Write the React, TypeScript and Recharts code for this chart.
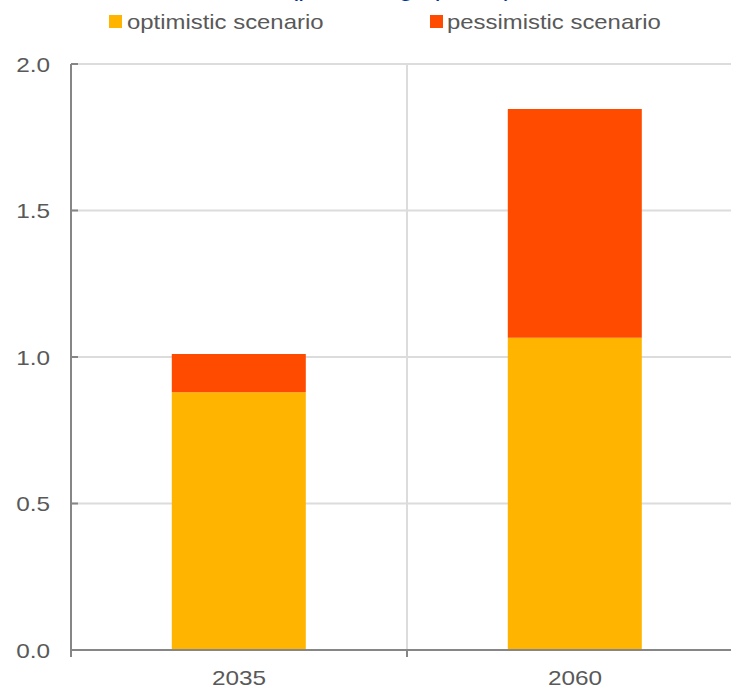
import React from 'react';
import { BarChart, Bar, XAxis, YAxis, CartesianGrid, Legend } from 'recharts';

const categories = ['2035', '2060'];
const optimistic = [0.88, 1.066];
const pessimisticExtra = [0.13, 0.78];
const yTicks = [0, 0.5, 1.0, 1.5, 2.0];
const seriesNames = ['optimistic scenario', 'pessimistic scenario'];
const seriesColors = ['#FFB400', '#FF4B00'];
const titleText = '(percentage points)';

const data = categories.map((c, i) => ({
  year: c,
  optimistic: optimistic[i],
  pessimistic: pessimisticExtra[i],
}));

const FONT = '"Liberation Sans", Arial, sans-serif';
const SX = 1.16;
const TEXT = '#595959';
const AXIS = '#868686';
const GRID = '#dcdcdc';

const stretch = (x: number, y: number) =>
  `translate(${x} ${y}) scale(${SX} 1) translate(${-x} ${-y})`;

const YTick = (props: any) => {
  const { x, y, payload } = props;
  return (
    <g>
      <line x1={x + 21} x2={x + 28} y1={y} y2={y} stroke={AXIS} strokeWidth={2} />
      <text
        x={x}
        y={y + 8}
        transform={stretch(x, y + 8)}
        textAnchor="end"
        fill={TEXT}
        fontFamily={FONT}
        fontSize={21}
      >
        {Number(payload.value).toFixed(1)}
      </text>
    </g>
  );
};

const XTick = (props: any) => {
  const { x, y, payload, index, width, visibleTicksCount } = props;
  const half = width / visibleTicksCount / 2;
  return (
    <g>
      <line x1={x - half} x2={x - half} y1={y} y2={y + 7} stroke={AXIS} strokeWidth={2} />
      {index === visibleTicksCount - 1 && (
        <line x1={x + half} x2={x + half} y1={y} y2={y + 7} stroke={AXIS} strokeWidth={2} />
      )}
      <text
        x={x}
        y={y + 35}
        transform={stretch(x, y + 35)}
        textAnchor="middle"
        fill={TEXT}
        fontFamily={FONT}
        fontSize={21}
      >
        {payload.value}
      </text>
    </g>
  );
};

const legendPos = [
  { sq: 109, tx: 127 },
  { sq: 430, tx: 447 },
];

const renderLegend = () => (
  <div style={{ position: 'relative', width: 731, height: 40 }}>
    {seriesNames.map((n, i) => (
      <React.Fragment key={n}>
        <span
          style={{
            position: 'absolute',
            left: legendPos[i].sq,
            top: 15,
            width: 13,
            height: 13,
            background: seriesColors[i],
          }}
        />
        <span
          style={{
            position: 'absolute',
            left: legendPos[i].tx,
            top: 10,
            lineHeight: '24px',
            fontFamily: FONT,
            fontSize: 20.6,
            color: TEXT,
            whiteSpace: 'nowrap',
            transform: `scaleX(${SX})`,
            transformOrigin: 'left center',
          }}
        >
          {n}
        </span>
      </React.Fragment>
    ))}
  </div>
);

export default function App() {
  return (
    <div
      style={{
        position: 'absolute',
        left: 0,
        top: 0,
        width: 731,
        height: 687,
        overflow: 'hidden',
        background: '#fff',
      }}
    >
      <div
        style={{
          position: 'absolute',
          left: 0,
          top: -22,
          width: 802,
          textAlign: 'center',
          fontFamily: FONT,
          fontSize: 22.3,
          lineHeight: '22px',
          color: '#003299',
          whiteSpace: 'nowrap',
          transform: `scaleX(${SX})`,
          transformOrigin: '401px 0',
        }}
      >
        {titleText}
      </div>
      <BarChart
        width={743}
        height={687}
        data={data}
        margin={{ top: 64, right: 0, left: 0, bottom: 0 }}
        barCategoryGap="30%"
        style={{ position: 'absolute', left: 0, top: 0 }}
      >
        <CartesianGrid
          stroke={GRID}
          strokeWidth={2}
          verticalCoordinatesGenerator={({ offset }: any) => [offset.left + offset.width / 2]}
        />
        <XAxis
          dataKey="year"
          height={37}
          axisLine={{ stroke: AXIS, strokeWidth: 2 }}
          tickLine={false}
          tickSize={0}
          tickMargin={0}
          tick={<XTick />}
          interval={0}
        />
        <YAxis
          width={71}
          domain={[0, 2]}
          ticks={yTicks}
          axisLine={{ stroke: AXIS, strokeWidth: 2 }}
          tickLine={false}
          tickSize={0}
          tickMargin={21}
          tick={<YTick />}
          interval={0}
        />
        <Legend
          verticalAlign="middle"
          content={renderLegend}
          wrapperStyle={{ position: 'absolute', top: 0, left: 0, width: 731, height: 40 }}
        />
        <Bar
          dataKey="optimistic"
          name={seriesNames[0]}
          stackId="a"
          fill={seriesColors[0]}
          isAnimationActive={false}
        />
        <Bar
          dataKey="pessimistic"
          name={seriesNames[1]}
          stackId="a"
          fill={seriesColors[1]}
          isAnimationActive={false}
        />
      </BarChart>
    </div>
  );
}
